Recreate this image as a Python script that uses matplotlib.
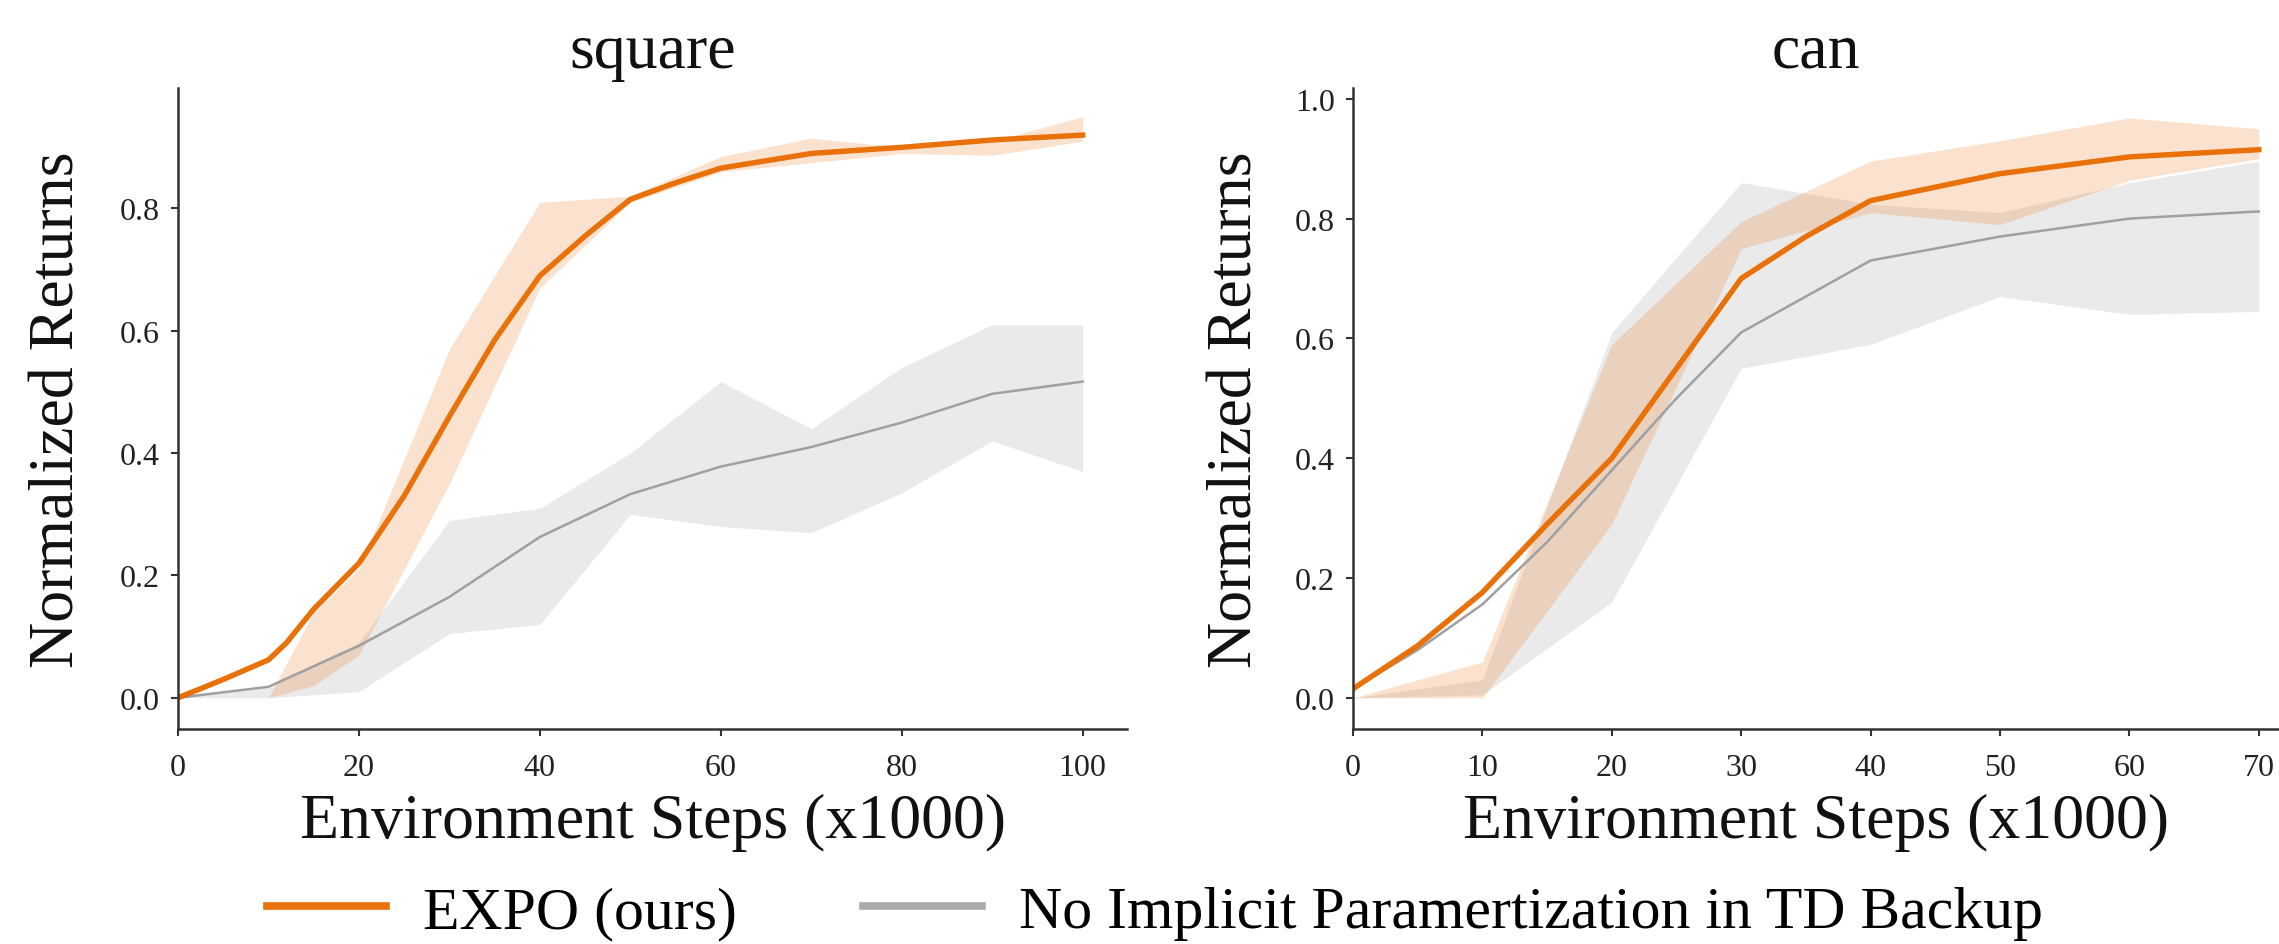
import matplotlib
matplotlib.use("Agg")
import matplotlib.pyplot as plt
from matplotlib.lines import Line2D

plt.rcParams['font.family'] = ['Liberation Serif', 'DejaVu Serif']

# ---------------- data ----------------
titles = ["square", "can"]
series_names = ["EXPO (ours)", "No Implicit Paramertization in TD Backup"]

# square
sq_expo_x = [0, 5, 10, 12, 15, 20, 25, 30, 35, 40, 45, 50, 55, 60, 70, 80, 90, 100]
sq_expo_y = [0.0, 0.03, 0.062, 0.09, 0.145, 0.22, 0.33, 0.46, 0.585, 0.69, 0.755, 0.815,
             0.842, 0.866, 0.89, 0.90, 0.912, 0.92]
sq_expo_band_x = [10, 15, 20, 30, 40, 50, 60, 70, 80, 90, 100]
sq_expo_lo = [0.0, 0.02, 0.07, 0.35, 0.67, 0.81, 0.86, 0.875, 0.89, 0.887, 0.91]
sq_expo_hi = [0.0, 0.14, 0.21, 0.57, 0.81, 0.82, 0.885, 0.915, 0.90, 0.91, 0.95]

sq_base_x = [0, 10, 20, 30, 40, 50, 60, 70, 80, 90, 100]
sq_base_y = [0.0, 0.018, 0.085, 0.165, 0.263, 0.333, 0.378, 0.41, 0.45, 0.497, 0.517]
sq_base_lo = [0.0, 0.0, 0.01, 0.105, 0.12, 0.30, 0.28, 0.27, 0.335, 0.42, 0.37]
sq_base_hi = [0.0, 0.02, 0.09, 0.29, 0.31, 0.40, 0.517, 0.44, 0.54, 0.61, 0.61]

# can
can_expo_x = [0, 5, 10, 15, 20, 25, 30, 35, 40, 50, 60, 70]
can_expo_y = [0.015, 0.087, 0.176, 0.29, 0.40, 0.55, 0.70, 0.77, 0.83, 0.875, 0.903, 0.915]
can_band_x = [0, 10, 20, 30, 40, 50, 60, 70]
can_expo_lo = [0.0, 0.0, 0.29, 0.75, 0.81, 0.79, 0.864, 0.90]
can_expo_hi = [0.0, 0.06, 0.59, 0.795, 0.896, 0.93, 0.968, 0.95]

can_base_x = [0, 5, 10, 15, 20, 25, 30, 35, 40, 50, 60, 70]
can_base_y = [0.015, 0.08, 0.156, 0.26, 0.38, 0.50, 0.61, 0.67, 0.73, 0.77, 0.80, 0.812]
can_base_lo = [0.0, 0.005, 0.16, 0.55, 0.59, 0.67, 0.64, 0.645]
can_base_hi = [0.0, 0.03, 0.61, 0.86, 0.824, 0.81, 0.86, 0.896]

sq_xticks = [0, 20, 40, 60, 80, 100]
sq_yticks = [0.0, 0.2, 0.4, 0.6, 0.8]
can_xticks = [0, 10, 20, 30, 40, 50, 60, 70]
can_yticks = [0.0, 0.2, 0.4, 0.6, 0.8, 1.0]

ORANGE = "#E8710A"
GRAY = "#A0A0A0"
LEG_GRAY = "#ABABAB"
BAND_GRAY = "#999999"
SPINE = "#333333"

W, H = 2279, 945
fig = plt.figure(figsize=(W / 100, H / 100), dpi=100)

ax1 = fig.add_axes([178 / W, 1 - 730 / H, (1127 - 178) / W, 641 / H])
ax2 = fig.add_axes([1353 / W, 1 - 730 / H, (W - 1353) / W, 641 / H])


def style(ax, xlim, ylim, xticks, yticks, title):
    ax.set_xlim(*xlim)
    ax.set_ylim(*ylim)
    ax.set_xticks(xticks)
    ax.set_yticks(yticks)
    ax.set_xticklabels([str(t) for t in xticks])
    ax.set_yticklabels([f"{t:.1f}" for t in yticks])
    for s in ["top", "right"]:
        ax.spines[s].set_visible(False)
    for s in ["left", "bottom"]:
        ax.spines[s].set_color(SPINE)
        ax.spines[s].set_linewidth(1.8)
    ax.tick_params(axis="both", labelsize=23, length=5, width=1.5, color=SPINE,
                   labelcolor="#222222", direction="out")
    ax.tick_params(axis="x", pad=12)
    ax.tick_params(axis="y", pad=8)
    ax.set_xlabel("Environment Steps (x1000)", fontsize=46, color="#111111")
    ax.set_ylabel("Normalized Returns", fontsize=46, color="#111111")
    ax.xaxis.set_label_coords(0.5, -0.10)
    ax.yaxis.set_label_coords(-0.095, 0.5)
    ax.set_title(title, fontsize=46, y=1.033, pad=0, va="baseline", color="#111111")


# square panel
ax1.fill_between(sq_base_x, sq_base_lo, sq_base_hi, color=BAND_GRAY, alpha=0.2, lw=0)
ax1.fill_between(sq_expo_band_x, sq_expo_lo, sq_expo_hi, color=ORANGE, alpha=0.2, lw=0)
ax1.plot(sq_base_x, sq_base_y, color=GRAY, lw=1.8)
ax1.plot(sq_expo_x, sq_expo_y, color=ORANGE, lw=3.9)
style(ax1, (0, 104.9), (-0.051, 0.997), sq_xticks, sq_yticks, titles[0])

# can panel
ax2.fill_between(can_band_x, can_base_lo, can_base_hi, color=BAND_GRAY, alpha=0.2, lw=0)
ax2.fill_between(can_band_x, can_expo_lo, can_expo_hi, color=ORANGE, alpha=0.2, lw=0)
ax2.plot(can_base_x, can_base_y, color=GRAY, lw=1.8)
ax2.plot(can_expo_x, can_expo_y, color=ORANGE, lw=3.9)
style(ax2, (0, 71.56), (-0.052, 1.018), can_xticks, can_yticks, titles[1])

handles = [Line2D([], [], color=ORANGE, lw=5.5), Line2D([], [], color=LEG_GRAY, lw=5.5)]
fig.legend(handles, series_names, loc="center left",
           bbox_to_anchor=(267 / W, 1 - 914 / H), ncol=2, frameon=False,
           fontsize=43, handlelength=2.0, handletextpad=0.62, columnspacing=2.1,
           borderpad=0, borderaxespad=0)

fig.savefig("out.png", dpi=100)
